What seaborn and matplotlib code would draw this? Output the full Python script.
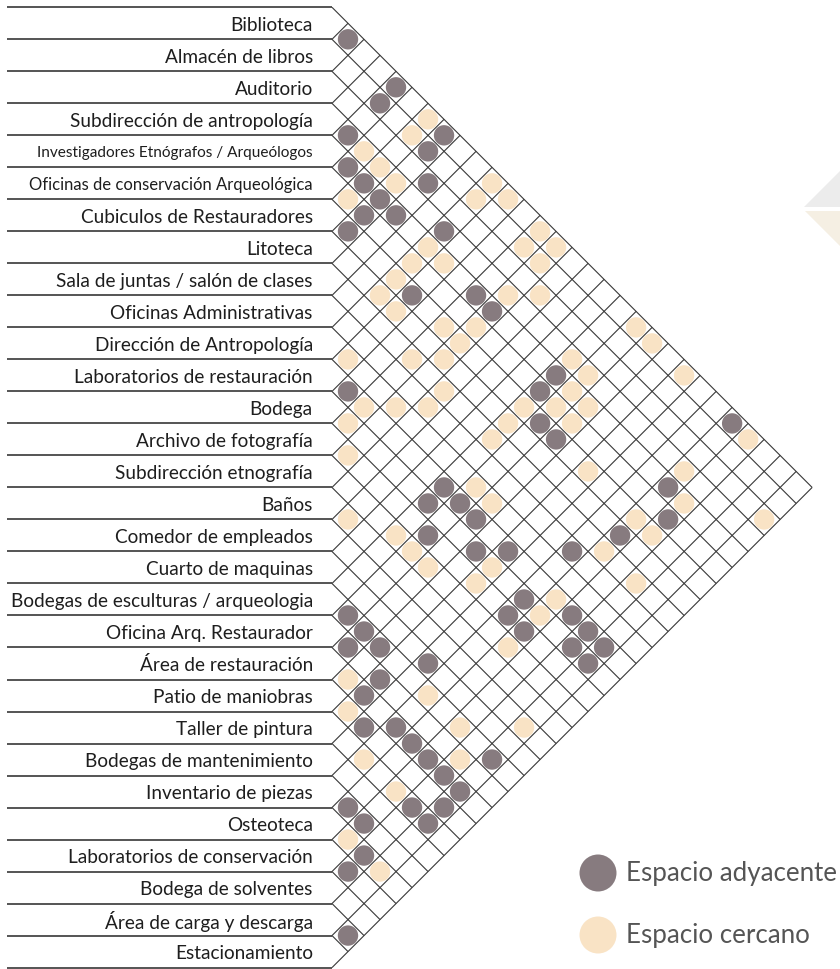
import numpy as np
import pandas as pd
import matplotlib
matplotlib.use("Agg")
import matplotlib.pyplot as plt
import seaborn as sns
from matplotlib.collections import LineCollection
from matplotlib.patches import Polygon

# ---------------- data ----------------
rows = [
    "Biblioteca", "Almacén de libros", "Auditorio", "Subdirección de antropología",
    "Investigadores Etnógrafos / Arqueólogos", "Oficinas de conservación Arqueológica",
    "Cubiculos de Restauradores", "Litoteca", "Sala de juntas / salón de clases",
    "Oficinas Administrativas", "Dirección de Antropología", "Laboratorios de restauración",
    "Bodega", "Archivo de fotografía", "Subdirección etnografía", "Baños",
    "Comedor de empleados", "Cuarto de maquinas", "Bodegas de esculturas / arqueologia",
    "Oficina Arq. Restaurador", "Área de restauración", "Patio de maniobras",
    "Taller de pintura", "Bodegas de mantenimiento", "Inventario de piezas", "Osteoteca",
    "Laboratorios de conservación", "Bodega de solventes", "Área de carga y descarga",
    "Estacionamiento",
]

# pairs (row index a, row index b) marked as adjacent space (dark)
adjacent_pairs = [
    (0, 1), (0, 4), (1, 4), (3, 4), (0, 7), (1, 7), (4, 5), (4, 6), (2, 8), (4, 7),
    (5, 7), (4, 8), (6, 7), (3, 10), (6, 11), (4, 13), (4, 14), (4, 18), (11, 12),
    (5, 18), (6, 19), (6, 20), (11, 18), (12, 18), (11, 19), (11, 20), (13, 19),
    (12, 21), (11, 22), (9, 24), (12, 24), (18, 19), (13, 24), (11, 26), (18, 20),
    (13, 25), (19, 20), (18, 21), (12, 27), (17, 23), (19, 22), (20, 22), (21, 23),
    (20, 24), (20, 25), (20, 26), (18, 28), (20, 27), (20, 28), (24, 25), (22, 27),
    (21, 28), (24, 26), (22, 28), (25, 27), (26, 27), (28, 29), (0, 25), (4, 25),
    (5, 26), (7, 25), (11, 27), (11, 28), (12, 28),
]

# pairs marked as nearby space (beige)
near_pairs = [
    (0, 6), (1, 6), (3, 5), (3, 6), (3, 7), (0, 10), (5, 6), (1, 10), (0, 11), (0, 13),
    (4, 10), (1, 13), (0, 14), (5, 10), (4, 11), (1, 14), (6, 10), (7, 10), (3, 14),
    (2, 15), (7, 11), (6, 13), (5, 14), (6, 14), (10, 11), (8, 13), (7, 14), (3, 18),
    (4, 19), (11, 13), (10, 14), (9, 15), (8, 15), (6, 18), (5, 19), (12, 13), (7, 18),
    (5, 20), (8, 18), (13, 14), (10, 19), (10, 20), (15, 16), (14, 18), (14, 19),
    (14, 20), (12, 22), (13, 22), (11, 25), (12, 25), (14, 25), (20, 21), (18, 24),
    (21, 22), (18, 26), (16, 28), (22, 24), (19, 27), (22, 26), (25, 26), (25, 28),
    (0, 19), (0, 20), (3, 19), (0, 22), (4, 20), (0, 26), (6, 22), (3, 25), (4, 26),
    (2, 29), (6, 25), (6, 26), (8, 25), (8, 27),
]

relation_labels = ["Espacio adyacente", "Espacio cercano"]
relation_colors = ["#877b7f", "#f9e3c5"]

# ---------------- styling / layout ----------------
W, H, DPI = 840, 969, 100
S = 32.01           # pixels per row
X0, Y0 = 332, 23.3  # grid edge / first row centre in pixels
BASE_FS = 13.7
FS_OVERRIDE = {
    "Investigadores Etnógrafos / Arqueólogos": 11.1,
    "Oficinas de conservación Arqueológica": 12.0,
}

sns.set_theme(style="white")
plt.rcParams["font.family"] = ["Lato", "DejaVu Sans"]

fig = plt.figure(figsize=(W / DPI, H / DPI), dpi=DPI)
ax = fig.add_axes([0, 0, 1, 1])

n = len(rows)

# tidy frame of matrix cells
recs = []
for (a, b) in adjacent_pairs:
    recs.append({"a": a, "b": b, "rel": relation_labels[0]})
for (a, b) in near_pairs:
    recs.append({"a": a, "b": b, "rel": relation_labels[1]})
df = pd.DataFrame(recs)
df["x"] = (df["b"] - df["a"]) / 2.0
df["y"] = (df["a"] + df["b"]) / 2.0

# rotated grid
segs = []
for k in range(n + 1):
    bnd = k - 0.5
    segs.append([(0, bnd), ((n - k) / 2, bnd + (n - k) / 2)])
    segs.append([(0, bnd), (k / 2, bnd - k / 2)])
ax.add_collection(LineCollection(segs, colors="#383838", linewidths=0.8, zorder=1))

# horizontal separators for the labels
left = (7 - X0) / S
ax.hlines(np.arange(n + 1) - 0.5, left, 0, colors="#262626", linewidth=1.1, zorder=1)

# row labels
for i, name in enumerate(rows):
    fs = FS_OVERRIDE.get(name, BASE_FS)
    ax.text(-0.6, i + 0.06, name, ha="right", va="center", fontsize=fs, color="#1e1e1e")

sns.scatterplot(
    data=df, x="x", y="y", hue="rel",
    palette=dict(zip(relation_labels, relation_colors)),
    s=215, linewidth=0, legend=False, ax=ax, zorder=3,
)

ax.set_xlim(-X0 / S, (W - X0) / S)
ax.set_ylim((H - Y0) / S, -Y0 / S)
ax.axis("off")

# decorative triangles (top right)
def fpx(px, py):
    return (px / W, 1 - py / H)

fig.patches.append(Polygon([fpx(804, 207), fpx(850, 161), fpx(850, 207)], closed=True,
                           transform=fig.transFigure, facecolor="#ececec", edgecolor="none"))
fig.patches.append(Polygon([fpx(805, 211), fpx(850, 256), fpx(850, 211)], closed=True,
                           transform=fig.transFigure, facecolor="#f5efe3", edgecolor="none"))

# legend drawn in a pixel-space overlay axes
lax = fig.add_axes([0, 0, 1, 1], facecolor="none")
lax.set_xlim(0, W)
lax.set_ylim(H, 0)
lax.axis("off")
leg_y = [873, 935]
lax.scatter([598, 598], leg_y, s=(37 * 0.72) ** 2, c=relation_colors, linewidths=0)
for yy, lab in zip(leg_y, relation_labels):
    lax.text(626, yy + 1, lab, ha="left", va="center", fontsize=18.6, color="#555555")

fig.savefig("out.png", dpi=DPI)
